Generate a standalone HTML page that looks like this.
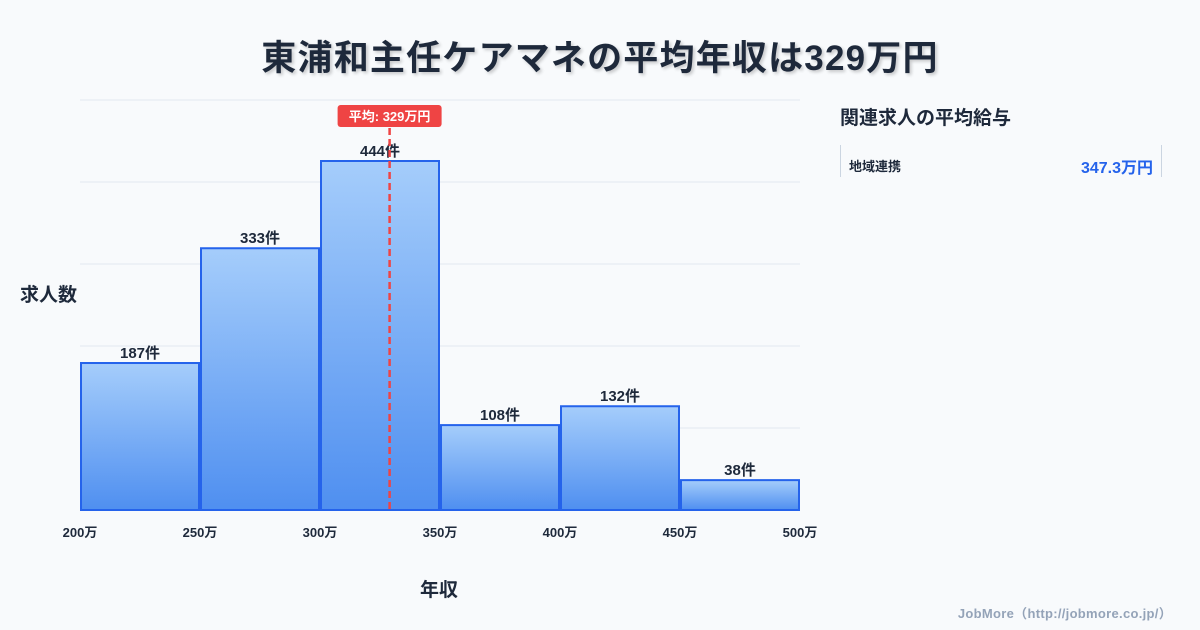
<!DOCTYPE html>
<html><head><meta charset="utf-8"><style>
body{margin:0;width:1200px;height:630px;background:#f8fafc;font-family:"Liberation Sans","Noto Sans CJK JP",sans-serif;overflow:hidden;position:relative}
.t{position:absolute;color:#1e293b;font-weight:700}
</style></head><body>
<div class="t" style="left:0;width:1200px;top:30px;text-align:center;font-size:35px;letter-spacing:1.2px;text-shadow:2px 2px 3px rgba(0,0,0,0.2)">東浦和主任ケアマネの平均年収は329万円</div>
<div class="t" style="left:20px;top:280px;font-size:19px">求人数</div>
<div class="t" style="left:420px;top:575px;font-size:19px">年収</div>
<div class="t" style="left:840px;top:103px;font-size:19px">関連求人の平均給与</div>
<div style="position:absolute;left:840px;top:145px;width:320px;height:32px;border-left:1px solid #cbd5e1;border-right:1px solid #cbd5e1">
<span style="position:absolute;left:8px;top:11px;font-size:13px;font-weight:700;color:#1e293b">地域連携</span>
<span style="position:absolute;right:8px;top:9px;font-size:16px;font-weight:700;color:#2563eb">347.3万円</span></div>
<div style="position:absolute;right:28px;top:603px;font-size:13px;font-weight:700;letter-spacing:0.3px;color:#94a3b8">JobMore（http://jobmore.co.jp/）</div>
<svg id="c" width="1200" height="630" style="position:absolute;left:0;top:0">
<defs><linearGradient id="g" x1="0" y1="0" x2="0" y2="1"><stop offset="0" stop-color="#a5cdfb"/><stop offset="1" stop-color="#4f8ff0"/></linearGradient></defs>
</svg>
<script>
const bins=[200,250,300,350,400,450];
const counts=[187,333,444,108,132,38];
const xTicks=[200,250,300,350,400,450,500];
const mean=329;
const ymax=521.6;
const NS="http://www.w3.org/2000/svg";
const svg=document.getElementById('c');
const X=v=>80+(v-200)*2.4, Y=v=>510-v*(410/ymax);
function mk(t,a){const e=document.createElementNS(NS,t);for(const k in a)e.setAttribute(k,a[k]);svg.appendChild(e);return e;}
for(let i=0;i<=5;i++){const g=mk('line',{x1:80,x2:800,y1:510-82*i,y2:510-82*i,stroke:'#e2e8f0','stroke-width':1});

}
counts.forEach((c,i)=>{
const r=mk('rect',{x:X(bins[i])+1,y:Y(c),width:X(bins[i]+50)-X(bins[i])-2,height:510-Y(c),fill:'url(#g)',stroke:'#2563eb','stroke-width':2});


const t=mk('text',{x:X(bins[i]+25),y:Y(c)-5,'text-anchor':'middle','font-size':15,'font-weight':700,fill:'#1e293b'});
t.textContent=c+'件';


});
xTicks.forEach(v=>{const t=mk('text',{x:X(v),y:537,'text-anchor':'middle','font-size':13,'font-weight':700,fill:'#1e293b'});
t.textContent=v+'万';

});
const ml=mk('line',{x1:X(mean),x2:X(mean),y1:128,y2:510,stroke:'#ef4444','stroke-width':2.5,'stroke-dasharray':'7,4'});


const mb=mk('rect',{x:X(mean)-52,y:105,width:104,height:22,rx:3,fill:'#ef4444'});


const mt=mk('text',{x:X(mean),y:121,'text-anchor':'middle','font-size':13,'font-weight':700,fill:'#fff'});
mt.textContent='平均: '+mean+'万円';


</script>
</body></html>
